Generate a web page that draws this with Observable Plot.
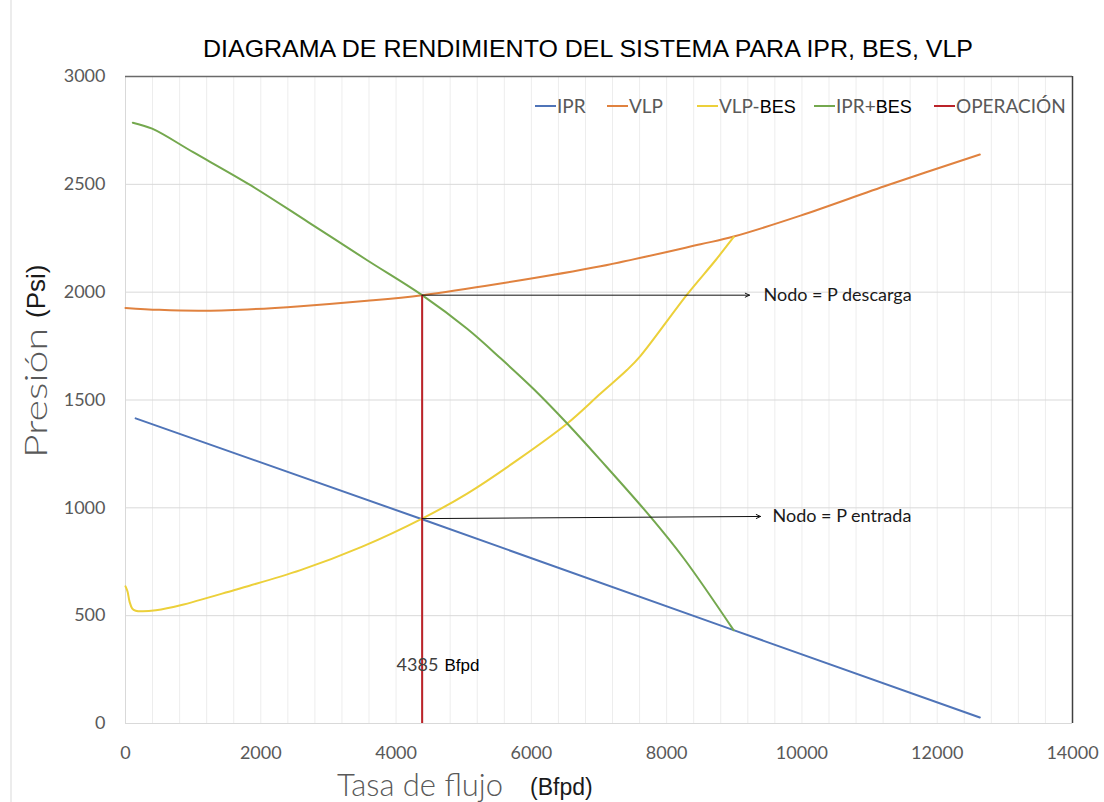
<!DOCTYPE html>
<html><head><meta charset="utf-8">
<script src="https://cdn.jsdelivr.net/npm/d3@7"></script>
<script src="https://cdn.jsdelivr.net/npm/@observablehq/plot@0.6"></script>
<style>body{margin:0;background:#fff;} svg{display:block}</style>
</head><body><div id="chart"></div>
<script>
// ---- data ----
const title = "DIAGRAMA DE RENDIMIENTO DEL SISTEMA PARA IPR, BES, VLP";
const xTicks = [0, 2000, 4000, 6000, 8000, 10000, 12000, 14000];
const yTicks = [0, 500, 1000, 1500, 2000, 2500, 3000];
const xMinor = d3.range(0, 14001, 400);

const iprQ = [150, 4385, 8990, 12630];
const iprP = [1415, 947, 433, 28];

const vlpQ = [0, 500, 1109, 1800, 2587, 3573, 4385, 5544, 7023, 8501, 8992, 9979, 11285, 12630];
const vlpP = [1927, 1918, 1914, 1920, 1935, 1960, 1986, 2040, 2120, 2222, 2258, 2355, 2498, 2638];

const vlpBesQ = [0, 30, 60, 100, 150, 250, 450, 813, 1601, 2587, 3500, 4385, 5051, 5791, 6530, 7023, 7417, 7614, 8304, 8723, 8992];
const vlpBesP = [636, 612, 565, 533, 523, 520, 525, 548, 618, 711, 820, 950, 1066, 1221, 1391, 1530, 1640, 1705, 1990, 2148, 2256];

const iprBesQ = [108, 394, 1000, 1848, 2700, 3573, 4385, 5051, 5550, 6037, 6530, 7023, 7762, 8255, 8990];
const iprBesP = [2786, 2758, 2649, 2496, 2325, 2148, 1986, 1830, 1692, 1550, 1391, 1221, 958, 765, 433];

const opQ = 4385;          // operating rate
const opPdis = 1986;       // discharge pressure node
const opPin = 950;         // intake pressure node
const arrowEndQ = [9225, 9388];
const arrowEndP = [1986, 960];
const nodeLabels = ["Nodo = P descarga", "Nodo = P entrada"];

const seriesNames = ["IPR", "VLP", "VLP-BES", "IPR+BES", "OPERACIÓN"];
const seriesColors = ["#4f74b8", "#e0823f", "#ecd03a", "#74a84e", "#bb2329"];

// ---- tables ----
const toRows = (qs, ps) => qs.map((q, i) => ({q, p: ps[i]}));
const ipr = toRows(iprQ, iprP);
const vlp = toRows(vlpQ, vlpP);
const vlpBes = toRows(vlpBesQ, vlpBesP);
const iprBes = toRows(iprBesQ, iprBesP);
const arrows = [
  {x1: opQ, y1: opPdis, x2: arrowEndQ[0], y2: arrowEndP[0], label: nodeLabels[0]},
  {x1: opQ, y1: opPin, x2: arrowEndQ[1], y2: arrowEndP[1], label: nodeLabels[1]}
];

const plot = Plot.plot({
  width: 1104, height: 802,
  marginLeft: 125, marginRight: 32, marginTop: 76, marginBottom: 79,
  style: {fontFamily: "Lato, sans-serif", background: "#fff", overflow: "visible"},
  x: {domain: [0, 14000]},
  y: {domain: [0, 3000]},
  marks: [
    Plot.ruleX(xMinor, {stroke: "#ededed", strokeWidth: 1}),
    Plot.ruleY(yTicks, {stroke: "#d9d9d9", strokeWidth: 1}),
    Plot.ruleX([0], {stroke: "#d9d9d9", strokeWidth: 1}),
    Plot.ruleY([3000], {stroke: "#6a6a6a", strokeWidth: 1.5}),
    Plot.ruleX([14000], {stroke: "#404040", strokeWidth: 1.5}),
    Plot.axisX({ticks: xTicks, tickSize: 0, tickPadding: 23, fontSize: 18, color: "#595959", label: null, tickFormat: d => String(d)}),
    Plot.axisY({ticks: yTicks, tickSize: 0, tickPadding: 20, fontSize: 18, color: "#595959", label: null, tickFormat: d => String(d)}),
    Plot.line(ipr, {x: "q", y: "p", stroke: seriesColors[0], strokeWidth: 2}),
    Plot.line(vlp, {x: "q", y: "p", stroke: seriesColors[1], strokeWidth: 2, curve: "catmull-rom"}),
    Plot.line(vlpBes, {x: "q", y: "p", stroke: seriesColors[2], strokeWidth: 2, curve: "catmull-rom"}),
    Plot.line(iprBes, {x: "q", y: "p", stroke: seriesColors[3], strokeWidth: 2, curve: "catmull-rom"}),
    Plot.ruleX([opQ], {y1: 0, y2: opPdis, stroke: seriesColors[4], strokeWidth: 2}),
    Plot.arrow(arrows, {x1: "x1", y1: "y1", x2: "x2", y2: "y2", stroke: "#111", strokeWidth: 1, headLength: 7, headAngle: 50}),
    Plot.text([arrows[0]], {x: "x2", y: "y2", text: "label", dx: 14, textAnchor: "start", lineAnchor: "middle", fontSize: 18, fill: "#1a1a1a"}),
    Plot.text([arrows[1]], {x: "x2", y: "y2", text: "label", dx: 12, textAnchor: "start", lineAnchor: "middle", fontSize: 18, fill: "#1a1a1a"})
  ]
});

document.getElementById("chart").appendChild(plot);

const svg = d3.select(plot);
const xs = plot.scale("x");
const g = svg.append("g").attr("text-anchor", "start");

// outer chart border (left)
g.append("line").attr("x1", 11).attr("x2", 11).attr("y1", 0).attr("y2", 802).attr("stroke", "#d9d9d9");

// title
g.append("text").attr("x", 588).attr("y", 57).attr("text-anchor", "middle")
  .attr("font-family", "'Liberation Sans', Arial, sans-serif").attr("font-size", 24).attr("fill", "#000")
  .attr("textLength", 770).attr("lengthAdjust", "spacingAndGlyphs").text(title);

// legend
const legendStarts = [557, 629, 719, 836, 956];
seriesNames.forEach((name, i) => {
  const x0 = legendStarts[i];
  g.append("line").attr("x1", x0 - 22).attr("x2", x0 - 1).attr("y1", 106).attr("y2", 106)
    .attr("stroke", seriesColors[i]).attr("stroke-width", 2);
  const t = g.append("text").attr("x", x0).attr("y", 113).attr("text-anchor", "start")
    .attr("font-family", "Lato, sans-serif").attr("font-size", 19).attr("fill", "#595959");
  if (name.endsWith("BES")) {
    t.append("tspan").text(name.slice(0, -3));
    t.append("tspan").attr("font-family", "'Liberation Sans', Arial, sans-serif").attr("font-size", 18).attr("fill", "#000").text("BES");
  } else {
    t.text(name);
  }
});

// operating rate label
const opLabel = g.append("text").attr("x", xs.apply(opQ) - 25).attr("y", 671).attr("text-anchor", "start");
opLabel.append("tspan").attr("font-family", "Lato, sans-serif").attr("font-size", 18).attr("fill", "#404040").text(String(opQ));
opLabel.append("tspan").attr("dx", 6).attr("font-family", "'Liberation Sans', Arial, sans-serif").attr("font-size", 17).attr("fill", "#000").text("Bfpd");

// x axis label
g.append("text").attr("x", 337).attr("y", 796).attr("text-anchor", "start")
  .attr("font-family", "Lato, sans-serif").attr("font-weight", 300).attr("font-size", 32).attr("fill", "#595959")
  .attr("textLength", 166).attr("lengthAdjust", "spacingAndGlyphs").text("Tasa de flujo");
g.append("text").attr("x", 530).attr("y", 795).attr("text-anchor", "start")
  .attr("font-family", "'Liberation Sans', Arial, sans-serif").attr("font-size", 23).attr("fill", "#1a1a1a").text("(Bfpd)");

// y axis label
g.append("text").attr("transform", "translate(46.5,458) rotate(-90)").attr("text-anchor", "start")
  .attr("font-family", "Lato, sans-serif").attr("font-weight", 300).attr("font-size", 31).attr("fill", "#595959")
  .attr("textLength", 130).attr("lengthAdjust", "spacingAndGlyphs").text("Presión");
g.append("text").attr("transform", "translate(45,318) rotate(-90)").attr("text-anchor", "start")
  .attr("font-family", "'Liberation Sans', Arial, sans-serif").attr("font-size", 26).attr("fill", "#1a1a1a").text("(Psi)");
</script>
</body></html>
